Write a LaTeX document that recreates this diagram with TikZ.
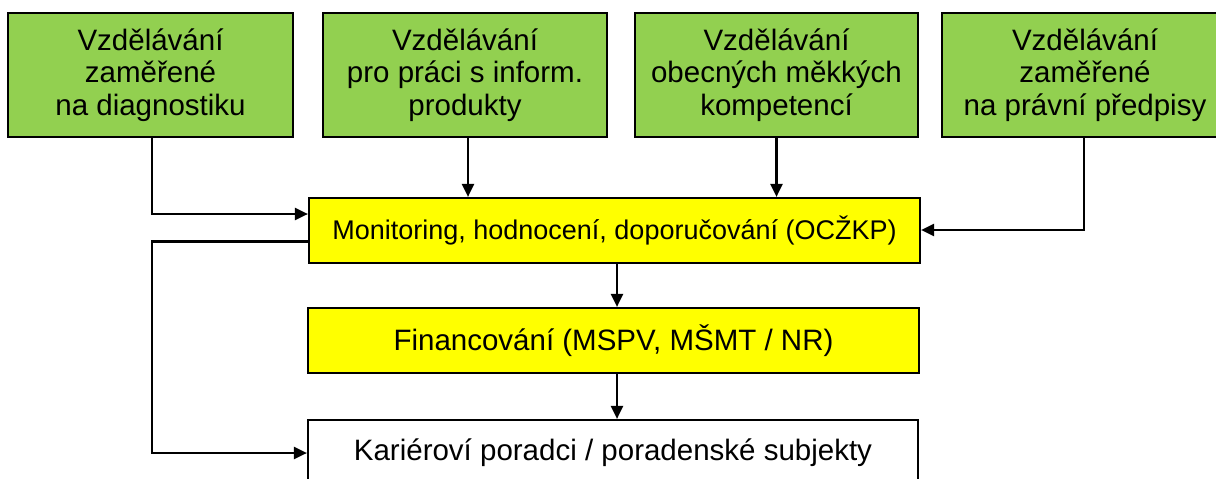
\documentclass[tikz,border=0pt]{standalone}
\usepackage{fontspec}
\setmainfont{Liberation Sans}
\usetikzlibrary{arrows.meta,calc}
\definecolor{grn}{HTML}{92D050}
\definecolor{ylw}{HTML}{FFFF00}
\begin{document}
\begin{tikzpicture}[x=1pt,y=1pt,
  topbox/.style={draw=black,line width=2.2pt,fill=grn,minimum height=124pt,align=center,
    font=\fontsize{29.5}{32.5}\selectfont,inner sep=0pt},
  midbox/.style={draw=black,line width=2.2pt,fill=ylw,minimum width=611pt,minimum height=65pt,
    font=\fontsize{29.5}{32}\selectfont,inner sep=0pt},
  arr/.style={line width=2.2pt,-{Triangle[length=13pt,width=12pt]}}]
\useasboundingbox (0,0) rectangle (1216,-479);
\clip (0,0) rectangle (1216,-479);
\node[topbox,minimum width=285pt] (b1) at (150.5,-75) {Vzdělávání\\zaměřené\\na diagnostiku};
\node[topbox,minimum width=284pt] (b2) at (465,-75) {Vzdělávání\\pro práci s inform.\\produkty};
\node[topbox,minimum width=283pt] (b3) at (776.5,-75) {Vzdělávání\\obecných měkkých\\kompetencí};
\node[topbox,minimum width=286pt] (b4) at (1085,-75) {Vzdělávání\\zaměřené\\na právní předpisy};
\node[midbox,font=\fontsize{27}{30}\selectfont] (y1) at (614.5,-230.5) {Monitoring, hodnocení, doporučování (OCŽKP)};
\node[midbox] (y2) at (613.5,-340.5) {Financování (MSPV, MŠMT / NR)};
\node[midbox,fill=white,minimum height=66pt,minimum width=610pt] (w) at (613,-453) {Kariéroví poradci / poradenské subjekty};
\draw[arr] ([xshift=1.5pt]b1.south) |- ([yshift=16.5pt]y1.west);
\draw[arr] ([xshift=3pt]b2.south) -- ([xshift=3pt]b2.south |- y1.north);
\draw[arr] (b3.south) -- (b3.south |- y1.north);
\draw[arr] ([xshift=-1pt]b4.south) |- ([yshift=0.5pt]y1.east);
\draw[arr] ([xshift=2.5pt]y1.south) -- ([xshift=2.5pt]y1.south |- y2.north);
\draw[arr] ([xshift=3.5pt]y2.south) -- ([xshift=3.5pt]y2.south |- w.north);
\coordinate (c) at (152,-241.5);
\draw[arr] ([yshift=-11pt]y1.west) -- (c) |- (w.west);
\end{tikzpicture}
\end{document}
